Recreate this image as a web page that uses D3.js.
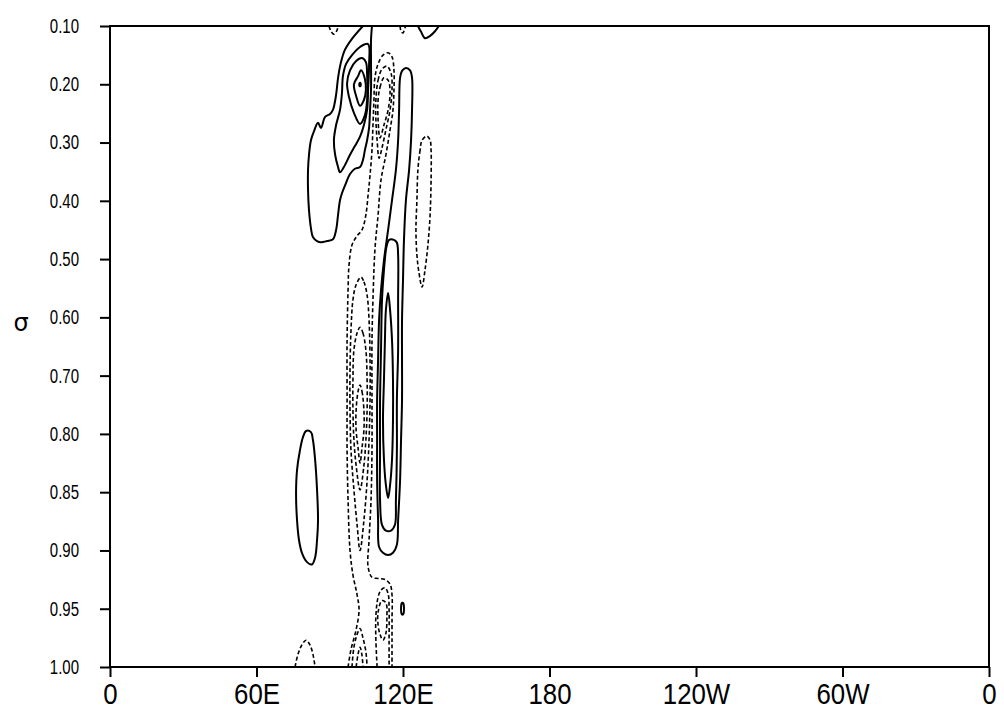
<!DOCTYPE html>
<html>
<head>
<meta charset="utf-8">
<script src="https://cdn.jsdelivr.net/npm/d3@7"></script>
<style>
  body { margin: 0; background: #fff; }
  svg { display: block; }
</style>
</head>
<body>
<div id="chart"></div>
<script>
// sigma levels drawn at equal spacing, longitude 0..360
const sigmaLevels = [0.10, 0.20, 0.30, 0.40, 0.50, 0.60, 0.70, 0.80, 0.85, 0.90, 0.95, 1.00];
const lonTicks = [0, 60, 120, 180, 240, 300, 360];
const lonLabels = ["0", "60E", "120E", "180", "120W", "60W", "0"];

// contour lines, points are [lon, sigma]
// a line whose last point equals its first is a closed loop
const positiveContours = [
  // outer contour round the upper maximum (cut by the top)
  [[103.6,0.100],[99.1,0.122],[96.2,0.141],[94.6,0.162],[93.4,0.189],[92.6,0.218],[91.3,0.244],[90.1,0.251],
   [88.1,0.256],[86.4,0.275],[85.2,0.266],[83.6,0.280],[82.3,0.296],[81.5,0.321],[81.1,0.347],[81.1,0.381],
   [81.5,0.416],[82.3,0.447],[83.1,0.462],[84.8,0.469],[86.4,0.471],[88.9,0.469],[91.3,0.466],[92.6,0.450],
   [93.4,0.424],[94.2,0.399],[95.0,0.387],[96.7,0.369],[98.3,0.354],[100.3,0.345],[102.4,0.342],[103.6,0.330],
   [104.4,0.313],[105.3,0.296],[106.1,0.275],[106.5,0.244],[106.9,0.210],[106.9,0.158],[106.9,0.124],[107.3,0.100]],
  [[105.7,0.131],[102.4,0.136],[99.1,0.150],[96.7,0.165],[95.4,0.186],[95.0,0.215],[94.2,0.244],[92.6,0.270],
   [91.7,0.296],[92.2,0.321],[93.4,0.342],[94.2,0.351],[95.8,0.342],[98.3,0.321],[100.3,0.306],[102.4,0.290],
   [104.0,0.270],[105.3,0.244],[105.7,0.210],[106.1,0.167],[105.7,0.131]],
  [[97.1,0.198],[98.3,0.176],[100.8,0.160],[103.2,0.155],[104.8,0.162],[105.3,0.184],[105.3,0.227],[104.4,0.253],
   [102.4,0.268],[99.9,0.249],[97.9,0.222],[97.1,0.198]],
  [[99.9,0.200],[101.6,0.186],[102.8,0.176],[104.4,0.191],[104.8,0.210],[104.0,0.227],[102.4,0.237],[100.8,0.220],[99.9,0.200]],
  [[102.2,0.198],[102.6,0.198],[102.6,0.203],[102.2,0.203],[102.2,0.198]],
  // top right fragment
  [[126.1,0.100],[127.4,0.110],[129.0,0.121],[131.1,0.117],[133.1,0.109],[134.7,0.100]],
  // long maximum near 115E
  [[118.8,0.189],[119.6,0.177],[121.2,0.172],[122.9,0.176],[123.7,0.189],[123.7,0.244],[123.3,0.296],[122.5,0.347],
   [121.2,0.399],[120.4,0.467],[120.0,0.536],[119.6,0.605],[119.6,0.673],[119.6,0.742],[119.2,0.805],[118.8,0.840],
   [118.0,0.874],[117.5,0.895],[115.9,0.902],[113.9,0.904],[111.8,0.902],[110.2,0.897],[109.8,0.874],[109.4,0.840],
   [109.4,0.805],[109.4,0.742],[109.8,0.673],[110.2,0.605],[111.0,0.553],[112.2,0.502],[113.9,0.450],[115.5,0.399],
   [117.1,0.347],[118.0,0.296],[118.4,0.244],[118.8,0.189]],
  [[113.4,0.476],[114.3,0.467],[116.3,0.467],[117.5,0.472],[118.0,0.493],[118.0,0.570],[118.0,0.656],[117.5,0.742],
   [117.5,0.814],[117.1,0.857],[116.7,0.878],[115.1,0.883],[113.0,0.883],[111.4,0.878],[110.6,0.857],[110.6,0.814],
   [110.6,0.742],[111.0,0.656],[111.4,0.570],[112.2,0.519],[113.0,0.484],[113.4,0.476]],
  [[113.9,0.558],[114.7,0.587],[115.5,0.639],[115.9,0.708],[115.9,0.776],[115.5,0.822],[114.7,0.844],[113.9,0.855],
   [113.0,0.844],[112.2,0.822],[111.8,0.776],[112.2,0.708],[112.6,0.639],[113.0,0.587],[113.9,0.558]],
  // low level cell near 80E
  [[80.3,0.795],[82.3,0.797],[83.1,0.805],[84.0,0.822],[84.8,0.848],[85.2,0.874],[84.8,0.891],[84.0,0.906],
   [82.7,0.912],[80.7,0.910],[78.6,0.902],[77.4,0.891],[76.6,0.874],[76.2,0.851],[76.6,0.831],[77.8,0.814],
   [79.0,0.803],[80.3,0.795]],
  [[119.6,0.945],[120.0,0.945],[120.4,0.949],[120.0,0.955],[119.6,0.955],[119.2,0.949],[119.6,0.945]]
];

const negativeContours = [
  [[89.7,0.100],[90.5,0.109],[91.7,0.114],[93.0,0.107],[93.4,0.100]],
  [[118.8,0.100],[119.2,0.109],[120.0,0.112],[120.8,0.103],[121.2,0.100]],
  // long negative band, both ends on the bottom
  [[97.5,1.000],[98.7,0.985],[100.8,0.968],[102.0,0.951],[101.2,0.938],[99.5,0.921],[98.3,0.900],[97.5,0.857],
   [97.1,0.814],[97.1,0.742],[97.1,0.639],[97.5,0.553],[97.9,0.510],[99.1,0.476],[101.2,0.460],[103.2,0.450],
   [104.8,0.424],[105.7,0.390],[106.5,0.356],[107.3,0.313],[107.7,0.270],[108.1,0.227],[108.5,0.189],[109.8,0.165],
   [111.8,0.150],[113.9,0.146],[115.5,0.153],[116.3,0.176],[116.3,0.210],[115.9,0.244],[114.7,0.278],[113.0,0.321],
   [111.0,0.364],[109.8,0.424],[108.5,0.484],[107.7,0.570],[107.3,0.639],[107.3,0.742],[107.3,0.814],[106.9,0.857],
   [106.1,0.891],[105.7,0.914],[107.3,0.923],[109.8,0.924],[112.6,0.925],[114.7,0.929],[115.5,0.938],[115.5,0.960],
   [115.5,0.981],[115.5,1.000]],
  [[108.9,0.227],[109.8,0.193],[111.4,0.174],[113.4,0.169],[115.1,0.181],[115.5,0.210],[114.7,0.244],[113.0,0.278],
   [111.4,0.309],[110.2,0.327],[109.4,0.296],[108.9,0.261],[108.9,0.227]],
  [[109.8,0.227],[110.6,0.205],[112.2,0.189],[113.9,0.193],[114.7,0.213],[113.9,0.244],[112.2,0.270],[110.6,0.292],
   [109.8,0.261],[109.8,0.227]],
  // nested minima near 100E
  [[102.8,0.531],[104.0,0.539],[105.3,0.562],[106.1,0.605],[106.5,0.673],[106.5,0.742],[106.1,0.805],[105.3,0.840],
   [104.0,0.874],[102.4,0.900],[101.2,0.878],[99.9,0.848],[98.7,0.814],[98.3,0.759],[98.3,0.690],[98.7,0.622],
   [99.5,0.570],[100.8,0.544],[102.8,0.531]],
  [[102.4,0.617],[103.6,0.627],[104.8,0.656],[105.3,0.708],[105.3,0.759],[104.8,0.805],[104.0,0.827],[102.4,0.848],
   [100.8,0.827],[99.9,0.805],[99.5,0.759],[99.5,0.708],[99.9,0.656],[101.2,0.627],[102.4,0.617]],
  [[102.4,0.716],[103.2,0.727],[104.0,0.759],[104.0,0.793],[103.2,0.812],[102.4,0.825],[101.6,0.812],[100.8,0.793],
   [100.8,0.759],[101.6,0.727],[102.4,0.716]],
  // tongue near 130E
  [[127.8,0.296],[127.0,0.313],[126.1,0.347],[125.7,0.399],[125.3,0.450],[125.7,0.493],[126.5,0.522],[127.8,0.548],
   [129.0,0.519],[130.2,0.476],[131.1,0.424],[131.5,0.364],[131.5,0.313],[131.1,0.296],[129.8,0.289],[127.8,0.296]],
  // near the surface
  [[99.1,1.000],[99.9,0.983],[101.2,0.972],[102.4,0.967],[103.6,0.975],[104.8,0.987],[105.3,1.000]],
  [[100.8,1.000],[101.6,0.989],[102.4,0.983],[103.2,0.990],[103.6,1.000]],
  [[109.4,1.000],[108.9,0.977],[108.9,0.956],[109.8,0.940],[111.0,0.934],[112.6,0.932],[113.9,0.937],[114.3,0.951],
   [114.3,0.977],[114.3,1.000]],
  [[109.8,0.953],[111.4,0.943],[113.0,0.945],[113.4,0.958],[113.0,0.971],[111.8,0.977],[110.6,0.972],[109.8,0.964],[109.8,0.953]],
  [[75.8,1.000],[77.0,0.989],[78.6,0.981],[80.3,0.977],[81.9,0.981],[83.1,0.989],[84.0,1.000]]
];

const width = 1004;
const height = 712;
const margin = {top: 26, right: 15, bottom: 45, left: 110};

const svg = d3.select("#chart").append("svg")
    .attr("width", width)
    .attr("height", height);

const x = d3.scaleLinear()
    .domain([0, 360])
    .range([margin.left, width - margin.right]);

// levels are equally spaced on the page
const step = (height - margin.top - margin.bottom) / (sigmaLevels.length - 1);
const y = d3.scaleLinear()
    .domain(sigmaLevels)
    .range(sigmaLevels.map((d, i) => margin.top + i * step));

svg.append("clipPath").attr("id", "plot-clip")
  .append("rect")
    .attr("x", margin.left)
    .attr("y", margin.top)
    .attr("width", width - margin.left - margin.right)
    .attr("height", height - margin.top - margin.bottom);

const isClosed = pts => {
    const a = pts[0], b = pts[pts.length - 1];
    return a[0] === b[0] && a[1] === b[1];
};

const openLine = d3.line().x(d => x(d[0])).y(d => y(d[1])).curve(d3.curveCatmullRom.alpha(0.5));
const loopLine = d3.line().x(d => x(d[0])).y(d => y(d[1])).curve(d3.curveCatmullRomClosed.alpha(0.5));
const contourPath = pts => isClosed(pts) ? loopLine(pts.slice(0, -1)) : openLine(pts);

const plot = svg.append("g").attr("clip-path", "url(#plot-clip)");

plot.append("g").selectAll("path")
    .data(negativeContours)
    .enter().append("path")
    .attr("d", contourPath)
    .attr("fill", "none")
    .attr("stroke", "#000")
    .attr("stroke-width", 1.6)
    .attr("stroke-dasharray", "4,2.5");

plot.append("g").selectAll("path")
    .data(positiveContours)
    .enter().append("path")
    .attr("d", contourPath)
    .attr("fill", "none")
    .attr("stroke", "#000")
    .attr("stroke-width", 2);

// frame
svg.append("rect")
    .attr("x", margin.left)
    .attr("y", margin.top)
    .attr("width", width - margin.left - margin.right)
    .attr("height", height - margin.top - margin.bottom)
    .attr("fill", "none")
    .attr("stroke", "#000")
    .attr("stroke-width", 2);

const xAxis = svg.append("g")
    .attr("transform", `translate(0,${y(1)})`)
    .call(d3.axisBottom(x)
        .tickValues(lonTicks)
        .tickFormat((d, i) => lonLabels[i])
        .tickSize(10)
        .tickSizeOuter(0)
        .tickPadding(6));

const yAxis = svg.append("g")
    .attr("transform", `translate(${margin.left},0)`)
    .call(d3.axisLeft(y)
        .tickValues(sigmaLevels)
        .tickFormat(d => d.toFixed(2))
        .tickSize(10)
        .tickSizeOuter(0)
        .tickPadding(21));

[xAxis, yAxis].forEach(g => {
    g.select(".domain").remove();
    g.selectAll(".tick line").attr("stroke", "#000").attr("stroke-width", 2);
    g.selectAll(".tick text").attr("fill", "#000");
});

// narrow the labels a little, like the original lettering
const squeeze = (sel, k) => sel.each(function () {
    const w = this.getComputedTextLength();
    d3.select(this).attr("textLength", w * k).attr("lengthAdjust", "spacingAndGlyphs");
});

xAxis.selectAll(".tick text")
    .style("font-family", "'Liberation Sans', Arial, sans-serif")
    .style("font-size", "30px")
    .call(squeeze, 0.86);

yAxis.selectAll(".tick text")
    .style("font-family", "'Liberation Sans', Arial, sans-serif")
    .style("font-size", "20px")
    .call(squeeze, 0.75);

svg.append("text")
    .attr("x", 21)
    .attr("y", 331)
    .attr("text-anchor", "middle")
    .style("font-family", "'DejaVu Sans', sans-serif")
    .style("font-size", "24px")
    .text("σ");
</script>
</body>
</html>
